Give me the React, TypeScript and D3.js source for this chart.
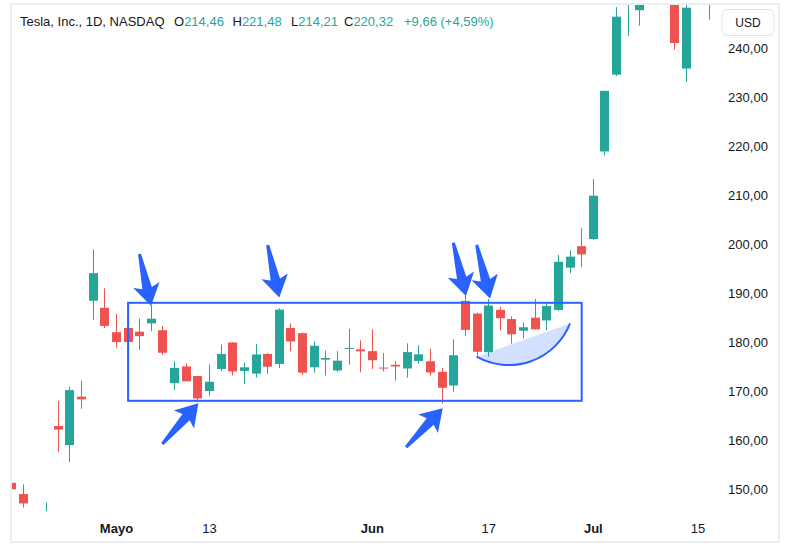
import React from 'react';
import * as d3 from 'd3';

// ---------- DATA ----------
const dates = [
  '2024-04-18','2024-04-19','2024-04-22','2024-04-23','2024-04-24','2024-04-25','2024-04-26',
  '2024-04-29','2024-04-30','2024-05-01','2024-05-02','2024-05-03','2024-05-06','2024-05-07',
  '2024-05-08','2024-05-09','2024-05-10','2024-05-13','2024-05-14','2024-05-15','2024-05-16',
  '2024-05-17','2024-05-20','2024-05-21','2024-05-22','2024-05-23','2024-05-24','2024-05-28',
  '2024-05-29','2024-05-30','2024-05-31','2024-06-03','2024-06-04','2024-06-05','2024-06-06',
  '2024-06-07','2024-06-10','2024-06-11','2024-06-12','2024-06-13','2024-06-14','2024-06-17',
  '2024-06-18','2024-06-20','2024-06-21','2024-06-24','2024-06-25','2024-06-26','2024-06-27',
  '2024-06-28','2024-07-01','2024-07-02','2024-07-03','2024-07-05','2024-07-08','2024-07-09',
  '2024-07-10','2024-07-11','2024-07-12','2024-07-15','2024-07-16'
];
const opens = [
  151.25,148.97,140.56,143.33,162.84,158.96,168.85,
  188.42,186.98,182.0,182.86,182.1,183.8,182.4,
  171.59,175.01,173.05,170.0,174.5,179.9,174.1,
  173.55,177.56,175.51,182.85,181.8,174.84,176.4,
  174.19,178.58,178.5,178.13,174.78,175.35,174.6,
  176.13,176.06,173.92,171.12,188.39,185.8,177.92,
  186.56,184.68,182.3,184.97,184.4,186.54,195.17,
  199.55,201.02,218.89,234.56,249.81,247.71,251.0,
  262.8,263.3,235.8,255.97,255.31
];
const highs = [
  152.2,150.94,144.44,147.26,167.97,170.88,172.12,
  198.87,190.95,185.7,184.6,184.78,187.56,183.26,
  176.06,175.62,173.06,175.4,179.49,179.99,175.79,
  179.63,177.75,186.88,183.8,181.9,180.08,178.25,
  178.15,182.67,180.32,182.64,177.76,176.15,179.73,
  179.35,178.57,174.75,180.55,191.08,186.0,188.81,
  187.2,185.21,183.95,188.8,187.97,197.76,198.72,
  203.2,213.23,231.3,248.35,252.37,259.44,265.61,
  267.59,271.0,251.84,265.6,258.62
];
const lows = [
  148.7,146.22,138.8,141.11,157.51,155.51,166.37,
  184.54,182.84,178.8,176.02,178.42,182.2,177.4,
  170.15,172.03,167.75,169.0,174.07,173.22,171.43,
  172.75,173.52,174.71,178.12,173.26,173.73,173.16,
  173.93,175.38,173.82,174.49,174.0,172.13,172.73,
  175.58,173.17,167.41,169.8,181.23,176.92,177.0,
  182.37,179.66,180.69,182.55,182.41,186.36,194.05,
  195.26,200.85,218.04,234.25,242.46,244.57,250.3,
  257.86,239.65,233.09,251.73,245.8
];
const closes = [
  149.93,147.05,142.05,144.68,162.13,170.18,168.29,
  194.05,183.28,179.99,180.01,181.19,184.76,177.81,
  174.72,171.97,168.47,171.89,177.55,173.99,174.84,
  177.46,174.95,186.6,180.11,173.74,179.24,176.75,
  176.19,178.79,178.08,176.29,174.77,175.0,177.94,
  177.48,173.79,170.66,177.29,182.47,178.01,187.44,
  184.86,181.57,183.01,182.58,187.35,196.37,197.42,
  197.88,209.86,231.26,246.39,251.52,252.54,262.33,
  263.26,241.03,248.23,252.64,256.56
];

const priceTicks = [150, 160, 170, 180, 190, 200, 210, 220, 230, 240];
const timeLabelDates = ['2024-05-01', '2024-05-13', '2024-06-03', '2024-06-17', '2024-07-01', '2024-07-15'];
const timeLabelTexts = ['Mayo', '13', 'Jun', '17', 'Jul', '15'];
const timeLabelBold = [true, false, true, false, true, false];

const headerTitle = 'Tesla, Inc., 1D, NASDAQ';
const headerKeys = ['O', 'H', 'L', 'C'];
const headerValues = ['214,46', '221,48', '214,21', '220,32'];
const headerChange = '+9,66 (+4,59%)';

// Annotations (bar index, price)
const rectStartDate = '2024-05-02';
const rectEndDate = '2024-06-28';
const rectPrices = [188, 168];

const arrowTailIdx = [10.98, 22.0, 37.96, 39.97, 12.94, 33.9];
const arrowTailPrice = [197.96, 199.8, 200.3, 199.8, 159.2, 158.5];
const arrowTipIdx = [11.97, 23.0, 39.05, 41.12, 16.04, 37.05];
const arrowTipPrice = [187.4, 189.1, 189.4, 188.9, 167.5, 166.5];

const arcIdx = [39.97, 42.98, 48.0];
const arcPrice = [177.0, 175.3, 183.8];

// ---------- STYLE ----------
const UP = '#26a69a';
const DOWN = '#ef5350';
const BLUE = '#2962ff';
const TEXT = '#131722';
const FONT = '"Liberation Sans", Arial, sans-serif';

function arrowPoints(tx: number, ty: number, px: number, py: number) {
  const dx = px - tx, dy = py - ty;
  const L = Math.hypot(dx, dy);
  const ux = dx / L, uy = dy / L;
  const nx = -uy, ny = ux;
  const pt = (a: number, w: number) => [tx + ux * a + nx * w, ty + uy * a + ny * w];
  const pts = [
    pt(0, -1.5), pt(0.66 * L, -4.8), pt(0.6 * L, -13.5), pt(L, 0),
    pt(0.6 * L, 13.5), pt(0.66 * L, 4.8), pt(0, 1.5)
  ];
  return pts.map(p => p[0].toFixed(2) + ',' + p[1].toFixed(2)).join(' ');
}

function arcPaths(A: number[], M: number[], B: number[]) {
  const [ax, ay] = A, [bx, by] = M, [cx, cy] = B;
  const d = 2 * (ax * (by - cy) + bx * (cy - ay) + cx * (ay - by));
  const ux = ((ax * ax + ay * ay) * (by - cy) + (bx * bx + by * by) * (cy - ay) + (cx * cx + cy * cy) * (ay - by)) / d;
  const uy = ((ax * ax + ay * ay) * (cx - bx) + (bx * bx + by * by) * (ax - cx) + (cx * cx + cy * cy) * (bx - ax)) / d;
  const r = Math.hypot(ax - ux, ay - uy);
  const a0 = Math.atan2(ay - uy, ax - ux);
  const am = Math.atan2(by - uy, bx - ux);
  const a1 = Math.atan2(cy - uy, cx - ux);
  const TAU = Math.PI * 2;
  const norm = (a: number) => ((a % TAU) + TAU) % TAU;
  const ccw = !(norm(am - a0) < norm(a1 - a0));
  const p = d3.path();
  p.moveTo(ax, ay);
  p.arc(ux, uy, r, a0, a1, ccw);
  const stroke = p.toString();
  p.closePath();
  return { stroke, fill: p.toString() };
}

export default function App() {
  const W = 789, H = 549;
  const x = d3.scaleLinear().domain([0, 59]).range([11.8, 698]);
  const y = d3.scaleLinear().domain([150, 240]).range([489, 48]);
  const idxOf = (d: string) => dates.indexOf(d);

  const plot = { x0: 12, y0: 5, x1: 719, y1: 511 };

  const candles = dates.map((d, i) => {
    const o = opens[i], c = closes[i];
    const cx = Math.floor(x(i));
    const top = y(Math.max(o, c));
    const bot = y(Math.min(o, c));
    const color = c >= o ? UP : DOWN;
    return (
      <g key={d}>
        <rect x={cx} y={y(highs[i])} width={1} height={y(lows[i]) - y(highs[i])} fill={color} />
        <rect x={cx - 4} y={top} width={9} height={Math.max(1, bot - top)} fill={color} />
      </g>
    );
  });

  const rx0 = x(idxOf(rectStartDate));
  const rx1 = x(idxOf(rectEndDate));
  const ry0 = y(rectPrices[0]);
  const ry1 = y(rectPrices[1]);

  const arc = arcPaths(
    [x(arcIdx[0]), y(arcPrice[0])],
    [x(arcIdx[1]), y(arcPrice[1])],
    [x(arcIdx[2]), y(arcPrice[2])]
  );

  const headerX = [174, 232.5, 291, 344];

  return (
    <svg width={W} height={H} style={{ position: 'absolute', left: 0, top: 0, fontFamily: FONT }}>
      <rect x={0} y={0} width={W} height={H} fill="#ffffff" />
      <defs>
        <clipPath id="plotClip">
          <rect x={plot.x0} y={plot.y0} width={plot.x1 - plot.x0} height={plot.y1 - plot.y0} />
        </clipPath>
      </defs>
      <g clipPath="url(#plotClip)">
        {candles}
        <rect x={rx0} y={ry0} width={rx1 - rx0} height={ry1 - ry0} fill="none" stroke={BLUE} strokeWidth={2} />
        <path d={arc.fill} fill={BLUE} fillOpacity={0.2} stroke="none" />
        <path d={arc.stroke} fill="none" stroke={BLUE} strokeWidth={2} />
        {arrowTailIdx.map((t, i) => (
          <polygon
            key={'a' + i}
            points={arrowPoints(x(t), y(arrowTailPrice[i]), x(arrowTipIdx[i]), y(arrowTipPrice[i]))}
            fill={BLUE}
          />
        ))}
      </g>

      {/* frame */}
      <rect x={11} y={4} width={768} height={538} fill="none" stroke="#eceef2" strokeWidth={2} />

      {/* header */}
      <text x={20} y={26} fontSize={13} fill={TEXT}>{headerTitle}</text>
      {headerKeys.map((k, i) => (
        <text key={k} x={headerX[i]} y={26} fontSize={13} fill={TEXT}>
          {k}<tspan fill={UP}>{headerValues[i]}</tspan>
        </text>
      ))}
      <text x={404} y={26} fontSize={13} fill={UP}>{headerChange}</text>

      {/* USD box */}
      <rect x={722} y={9.5} width={52} height={26} rx={5} fill="#ffffff" stroke="#e0e3eb" strokeWidth={1} />
      <text x={748} y={27} fontSize={12} fill={TEXT} textAnchor="middle">USD</text>

      {/* price axis */}
      {priceTicks.map(p => (
        <text key={p} x={748} y={y(p) + 4.5} fontSize={13} fill={TEXT} textAnchor="middle">
          {d3.format('.2f')(p).replace('.', ',')}
        </text>
      ))}

      {/* time axis */}
      {timeLabelDates.map((d, i) => (
        <text key={d} x={x(idxOf(d))} y={533} fontSize={13} fill={TEXT} textAnchor="middle"
          fontWeight={timeLabelBold[i] ? 'bold' : 'normal'}>
          {timeLabelTexts[i]}
        </text>
      ))}
    </svg>
  );
}
